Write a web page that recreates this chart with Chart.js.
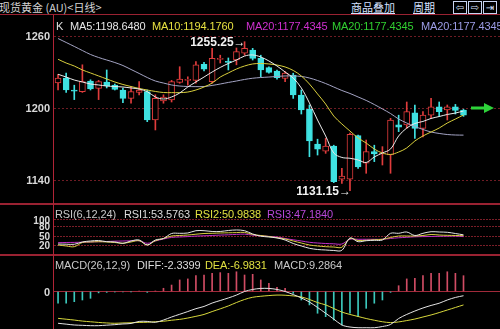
<!DOCTYPE html>
<html><head><meta charset="utf-8">
<script src="https://cdn.jsdelivr.net/npm/chart.js@4.4.1/dist/chart.umd.min.js"></script>
<style>
html,body{margin:0;padding:0;background:#000;width:500px;height:329px;overflow:hidden;}
body{position:relative;font-family:"Liberation Sans",Arial,sans-serif;}
.t{position:absolute;white-space:pre;font-size:11px;line-height:12px;letter-spacing:-0.1px;}
canvas{position:absolute;left:0;}
.hl{position:absolute;left:0;width:500px;background:#9a2232;}
.btn{position:absolute;color:#d6e2ff;font-size:11px;line-height:12px;text-decoration:underline;font-family:"Noto Sans CJK SC",sans-serif;}
.ic{position:absolute;top:1px;width:12px;height:11px;border:1px solid #c8d4f0;color:#d6e2ff;font-size:10px;line-height:11px;text-align:center;font-family:"DejaVu Sans",sans-serif;}
</style></head>
<body>
<canvas id="cMain" width="500" height="188" style="top:16px"></canvas>
<canvas id="cRsi" width="500" height="48" style="top:206px"></canvas>
<canvas id="cMacd" width="500" height="72" style="top:257px"></canvas>

<div class="hl" style="top:14px;height:1px;"></div>
<div class="hl" style="top:203px;height:2px;"></div>
<div class="hl" style="top:254px;height:2px;"></div>
<div style="position:absolute;left:53px;top:15px;width:1px;height:314px;background:#b02436;"></div>

<div class="t" style="left:-1px;top:1px;color:#d4d4d4;font-family:'Noto Sans CJK SC',sans-serif;font-size:11px;letter-spacing:0;">现货黄金 (AU)&lt;日线&gt;</div>
<div class="btn" style="left:351px;top:1px;">商品叠加</div>
<div class="btn" style="left:413px;top:1px;">周期</div>
<div class="ic" style="left:453px;">⇦</div>
<div class="ic" style="left:468px;">⇨</div>
<div class="ic" style="left:483px;">⇥</div>

<div class="t" style="left:56px;top:20px;color:#e0e0e0;">K</div>
<div class="t" style="left:70px;top:20px;color:#e6e6e6;">MA5:1198.6480</div>
<div class="t" style="left:152px;top:20px;color:#e6e040;">MA10:1194.1760</div>
<div class="t" style="left:246px;top:20px;color:#d030d0;">MA20:1177.4345</div>
<div class="t" style="left:332px;top:20px;color:#30d030;">MA20:1177.4345</div>
<div class="t" style="left:421px;top:20px;color:#9c9ce6;">MA20:1177.4345</div>

<div class="t" style="left:55px;top:208px;color:#c8c8c8;">RSI(6,12,24)</div>
<div class="t" style="left:124px;top:208px;color:#dcdcdc;">RSI1:53.5763</div>
<div class="t" style="left:195px;top:208px;color:#e0e040;">RSI2:50.9838</div>
<div class="t" style="left:267px;top:208px;color:#b848d8;">RSI3:47.1840</div>

<div class="t" style="left:55px;top:259px;color:#c8c8c8;">MACD(26,12,9)</div>
<div class="t" style="left:137px;top:259px;color:#dcdcdc;">DIFF:-2.3399</div>
<div class="t" style="left:205px;top:259px;color:#e0e040;">DEA:-6.9831</div>
<div class="t" style="left:274px;top:259px;color:#c8c8c8;">MACD:9.2864</div>

<script>
// ---------- data ----------
const days = ['1','2','3','4','5','6','7','8','9','10','11','12','13','14','15','16','17','18','19','20','21','22','23','24','25','26','27','28','29','30','31','32','33','34','35','36','37','38','39','40','41','42','43','44','45','46','47','48','49','50','51'];
const emptySlots = ['', '', '', ''];
const opens  = [1221,1225,1214.5,1213.6,1222.5,1216.4,1221.7,1219,1215,1208,1213,1213.6,1190,1206,1206.7,1221.4,1223,1223,1236.4,1222,1240.5,1238.5,1240,1245.6,1248.3,1241.4,1233.6,1230.8,1224.7,1227.5,1210.8,1198.9,1170,1164,1168.3,1140.6,1140.6,1177,1154,1163.6,1161.7,1160.8,1186,1185.8,1196,1183,1194,1201,1198.3,1201,1198.3];
const highs  = [1228,1229,1219,1236,1223.5,1223,1231.7,1220,1216.7,1217.8,1222,1215,1211,1211,1223,1234.4,1226,1238.6,1238,1249.7,1244,1241.7,1250,1255.25,1249.7,1244,1234.4,1231.7,1230.3,1229,1215,1202.5,1174,1174.7,1169,1149.7,1179,1177.5,1173.3,1169,1167.8,1191.4,1194,1205,1202.5,1197,1208,1205,1202.5,1203,1199];
const lows   = [1215,1213,1207,1213,1215,1207,1216.7,1215,1204.4,1204,1211,1188.6,1181.7,1204,1205,1220.6,1219,1220.6,1231,1220.6,1237.5,1231.7,1236,1244,1240,1226,1229,1224,1222,1208,1195,1159.4,1160.8,1162.2,1137.8,1137.2,1131.15,1149.7,1145.6,1155.3,1152.5,1145.6,1180.3,1183,1174.7,1176,1191.4,1193,1190,1195,1193];
const closes = [1225,1215,1214,1222,1216,1222,1218.6,1215.5,1208,1213.6,1215,1190,1208,1209,1222,1224,1223.5,1236,1232.3,1241.4,1241,1238,1247,1249.7,1241.4,1231.7,1229.7,1225.3,1229,1210.8,1198.3,1172.5,1165.6,1168.3,1138.6,1143.3,1178,1151,1163.6,1161.7,1162.5,1190,1184,1197,1183,1194,1201,1197,1201,1198,1194];
const ma5  = [1228.1,1225.8,1223.3,1221.7,1220,1219.2,1218.3,1217.9,1217.5,1216.7,1215.8,1213.6,1209.2,1207.5,1209.2,1212.5,1217.5,1221.7,1225.8,1230,1233.8,1237.1,1240,1243.3,1244.2,1242.5,1239.2,1235,1230,1225,1216.7,1204.2,1190,1176.7,1162.5,1158.8,1158.1,1156.7,1154.6,1159.2,1162.5,1165.8,1176.7,1183.3,1187.1,1188.8,1191.3,1192.9,1194.6,1195.8,1197.5];
const ma10 = [1240.6,1237.5,1235,1231.7,1229.2,1226.7,1224.2,1221.7,1219.6,1217.9,1216.3,1215,1213.8,1212.9,1212.8,1212.8,1213.3,1215,1217.5,1220.8,1225.8,1229.2,1232.5,1235,1236.7,1237.1,1236.7,1235.8,1234.2,1231.3,1226.7,1220,1211.7,1203.3,1193.3,1186.7,1180.8,1175,1170.8,1165.8,1162.5,1161.3,1163.3,1166.7,1172.5,1176.7,1180,1183.3,1187.5,1190.8,1194.2];
const ma20 = [1257.9,1254.6,1251.3,1247.9,1244.6,1242.1,1240,1237.9,1235.4,1232.1,1228.8,1225.4,1222.5,1220.8,1219.2,1218.3,1217.9,1217.8,1217.9,1218.8,1220,1221.3,1222.5,1223.8,1224.8,1225.4,1225.8,1226.3,1226.7,1226.7,1226.3,1225,1222.9,1220.4,1217.5,1214.6,1212.1,1209.2,1206.3,1202.9,1199.2,1195.4,1190.8,1187.5,1184.6,1182.1,1180,1178.8,1177.9,1177.5,1177.4];
const rsi1 = [25,24.4,24.1,31.3,34.4,35.9,32.2,31.3,27.2,34.4,37.5,21.9,37.5,42.2,57.8,58.4,59.4,66.6,66.6,64.1,64.1,67.2,68.8,66.6,56.3,49.4,46.9,43.8,37.5,26.6,18.8,11.6,7.8,6.3,4.7,5.3,43.8,32.2,35.3,36.6,37.5,58.4,58.4,62.5,51.6,58.4,63.4,62.5,61.6,57.8,53.6];
const rsi2 = [21.9,18.8,16.6,29.7,31.3,32.2,31.3,29.7,27.2,31.3,35.3,21.9,35.3,42.2,50,51.6,53.1,55.6,57.8,58.4,59.4,60,60.6,61.3,54.7,51.6,48.4,44.7,40.6,34.4,28.1,21.9,18.8,16.6,15.6,14.7,42.2,35.9,36.6,38.1,39.7,45.3,50,50,50,51.6,54.7,53.1,52.2,51.6,51];
const rsi3 = [29.1,29.7,30,30.6,31.3,32.2,32.8,33.8,34.4,35,35.3,27.2,34.4,40.6,45.6,46.9,48.1,49.7,50.6,51.6,52.8,53.8,55,55.9,52.5,50.6,48.8,46.9,42.2,38.1,34.4,30.3,28.1,26.6,25.6,25,39.7,39.7,39.7,39.7,39.7,42.2,44.4,45.9,47.5,48.1,48.4,49.1,49.4,49.7,48];
const macdHist = [-6.9,-6.8,-6,-5,-4,-0.8,-0.5,-0.3,-0.3,-0.2,0.3,-0.5,0.3,1.9,3.8,6.8,7.4,9.3,9.7,10.7,11.1,10.7,11.6,9.7,10.1,6.8,4.8,2.5,1.9,-1.1,-5,-7.9,-12.8,-14.8,-16.8,-19.7,-12.8,-14.8,-9.9,-6.9,-5,-0.5,3.4,7.4,7.8,9.3,10.7,10.7,11.6,10.7,9.3];
const diff = [-18.7,-19.2,-19.7,-19.9,-20.1,-20.1,-19.8,-19.5,-19.1,-18.8,-17.6,-17.6,-18.1,-16.8,-15,-13.4,-11.8,-10.1,-8.8,-6.8,-5.3,-3.8,-2.1,0,1.2,1.8,1.8,1.2,0,-1.8,-3.8,-6.2,-9.4,-12.8,-16.2,-19.7,-20.9,-21.3,-21.3,-21.3,-20.6,-19.4,-15.9,-13.5,-11.5,-9.7,-8.2,-6.9,-5,-3.5,-2.5];
const dea  = [-15.8,-16.3,-16.8,-17.4,-17.8,-18.2,-18.5,-18.7,-18.5,-18.4,-18.2,-18.1,-17.8,-17.5,-16.9,-16.4,-15.6,-14.6,-13.5,-11.8,-10.2,-8.5,-6.5,-4.7,-3.4,-2.8,-2.4,-2.1,-2.2,-2.6,-3.2,-4.7,-6.5,-7.9,-10,-12.1,-13.5,-14.7,-15.9,-16.9,-17.8,-18.3,-17.9,-17.1,-16.2,-15,-13.8,-12.4,-10.9,-9.4,-7.9];
const priceTicks = [1140, 1200, 1260];
const rsiTicks = [20, 50, 80, 100];
const macdTicks = [0];
const highMarkIndex = 23, highMarkLabel = '1255.25';
const lowMarkIndex = 36, lowMarkLabel = '1131.15';
const lastPriceMarker = 1200;

// ---------- helpers ----------
const labels = days.concat(emptySlots);
const RED = '#e03c3c', CYAN = '#3fe2e2';
const isUp = opens.map((o,i) => closes[i] >= o);
const bodies = opens.map((o,i) => [Math.min(o, closes[i]), Math.max(o, closes[i])]);
const wicks = lows.map((l,i) => [l, highs[i]]);
const fixW = s => { s.width = 54; };
const setTicks = arr => s => { s.ticks = arr.map(v => ({value: v})); };
const FONT = '"Liberation Sans", Arial, sans-serif';
const xScale = {display:false, offset:true, grid:{display:false, offset:true}};
const yBase = (min, max, ticks, color, dash) => ({
  min, max, position:'left', afterFit: fixW, afterBuildTicks: setTicks(ticks),
  ticks:{display:false}, grid:{color, lineWidth:1, drawTicks:false, tickLength:0},
  border:{display:false, dash}
});
Chart.defaults.animation = false;
Chart.defaults.responsive = false;
const common = {
  animation:false, responsive:false, events:[],
  layout:{padding:0},
  plugins:{legend:{display:false}, tooltip:{enabled:false}}
};
const lineDs = (data, color, order) => ({type:'line', data, borderColor:color, borderWidth:1, pointRadius:0, tension:0.35, order, fill:false});

const tickLabelPlugin = (ticks, font) => ({
  id:'tickLbl',
  afterDraw(chart){
    const {ctx, scales:{y}} = chart;
    ctx.save();
    ctx.font = font; ctx.fillStyle = '#d8d8d8';
    ctx.textAlign = 'right'; ctx.textBaseline = 'middle';
    ticks.forEach(v => ctx.fillText(String(v), 50, y.getPixelForValue(v) + 1));
    ctx.restore();
  }
});

// ---------- main chart ----------
const mainDeco = {
  id:'mainDeco',
  afterDraw(chart){
    const {ctx, scales:{x, y}} = chart;
    ctx.save();
    ctx.font = 'bold 12px ' + FONT; ctx.fillStyle = '#f2f2f2';
    ctx.textAlign = 'right'; ctx.textBaseline = 'middle';
    ctx.fillText(highMarkLabel + '→', x.getPixelForValue(highMarkIndex) + 1, y.getPixelForValue(highs[highMarkIndex]) + 1);
    ctx.fillText(lowMarkLabel + '→', x.getPixelForValue(lowMarkIndex) + 1, y.getPixelForValue(lows[lowMarkIndex]) + 1);
    // green price arrow
    const ay = y.getPixelForValue(lastPriceMarker);
    ctx.strokeStyle = '#2ed23a'; ctx.fillStyle = '#2ed23a'; ctx.lineWidth = 3;
    ctx.beginPath(); ctx.moveTo(471, ay); ctx.lineTo(485, ay); ctx.stroke();
    ctx.beginPath(); ctx.moveTo(484, ay - 5); ctx.lineTo(494, ay); ctx.lineTo(484, ay + 5); ctx.closePath(); ctx.fill();
    ctx.restore();
  }
};
new Chart(document.getElementById('cMain'), {
  type:'bar',
  data:{labels, datasets:[
    lineDs(ma5, '#ececec', 0),
    lineDs(ma10, '#d9cf3c', 0),
    lineDs(ma20, '#a4a4c4', 0),
    {type:'bar', data:bodies, grouped:false, barThickness:6, minBarLength:1, borderSkipped:false, borderWidth:1,
     backgroundColor:isUp.map(u => u ? '#000' : CYAN), borderColor:isUp.map(u => u ? RED : CYAN), order:1},
    {type:'bar', data:wicks, grouped:false, barThickness:1, borderWidth:0,
     backgroundColor:isUp.map(u => u ? RED : CYAN), order:2}
  ]},
  options:Object.assign({}, common, {
    scales:{x:xScale, y:yBase(1120, 1276.667, priceTicks, '#6e1c24', [2,2])}
  }),
  plugins:[tickLabelPlugin(priceTicks, 'bold 11px ' + FONT), mainDeco]
});

// ---------- RSI ----------
new Chart(document.getElementById('cRsi'), {
  type:'line',
  data:{labels, datasets:[
    lineDs(rsi3, '#c030c8', 2),
    lineDs(rsi2, '#d8d040', 1),
    lineDs(rsi1, '#e6e6e6', 0)
  ]},
  options:Object.assign({}, common, {
    scales:{x:xScale, y:yBase(-6.25, 143.75, rsiTicks, '#7a1e28', [2,1])}
  }),
  plugins:[tickLabelPlugin(rsiTicks, 'bold 10px ' + FONT)]
});

// ---------- MACD ----------
new Chart(document.getElementById('cMacd'), {
  type:'bar',
  data:{labels, datasets:[
    lineDs(diff, '#e4e4e4', 0),
    lineDs(dea, '#d8d83c', 0),
    {type:'bar', data:macdHist, barThickness:1, grouped:false, borderWidth:0,
     backgroundColor:macdHist.map(v => v >= 0 ? '#d04c64' : '#3cc8bc'), order:1}
  ]},
  options:Object.assign({}, common, {
    scales:{x:xScale, y:yBase(-22.06, 20.29, macdTicks, '#a02a3a', [])}
  }),
  plugins:[tickLabelPlugin(macdTicks, 'bold 11px ' + FONT)]
});
</script>
</body></html>
